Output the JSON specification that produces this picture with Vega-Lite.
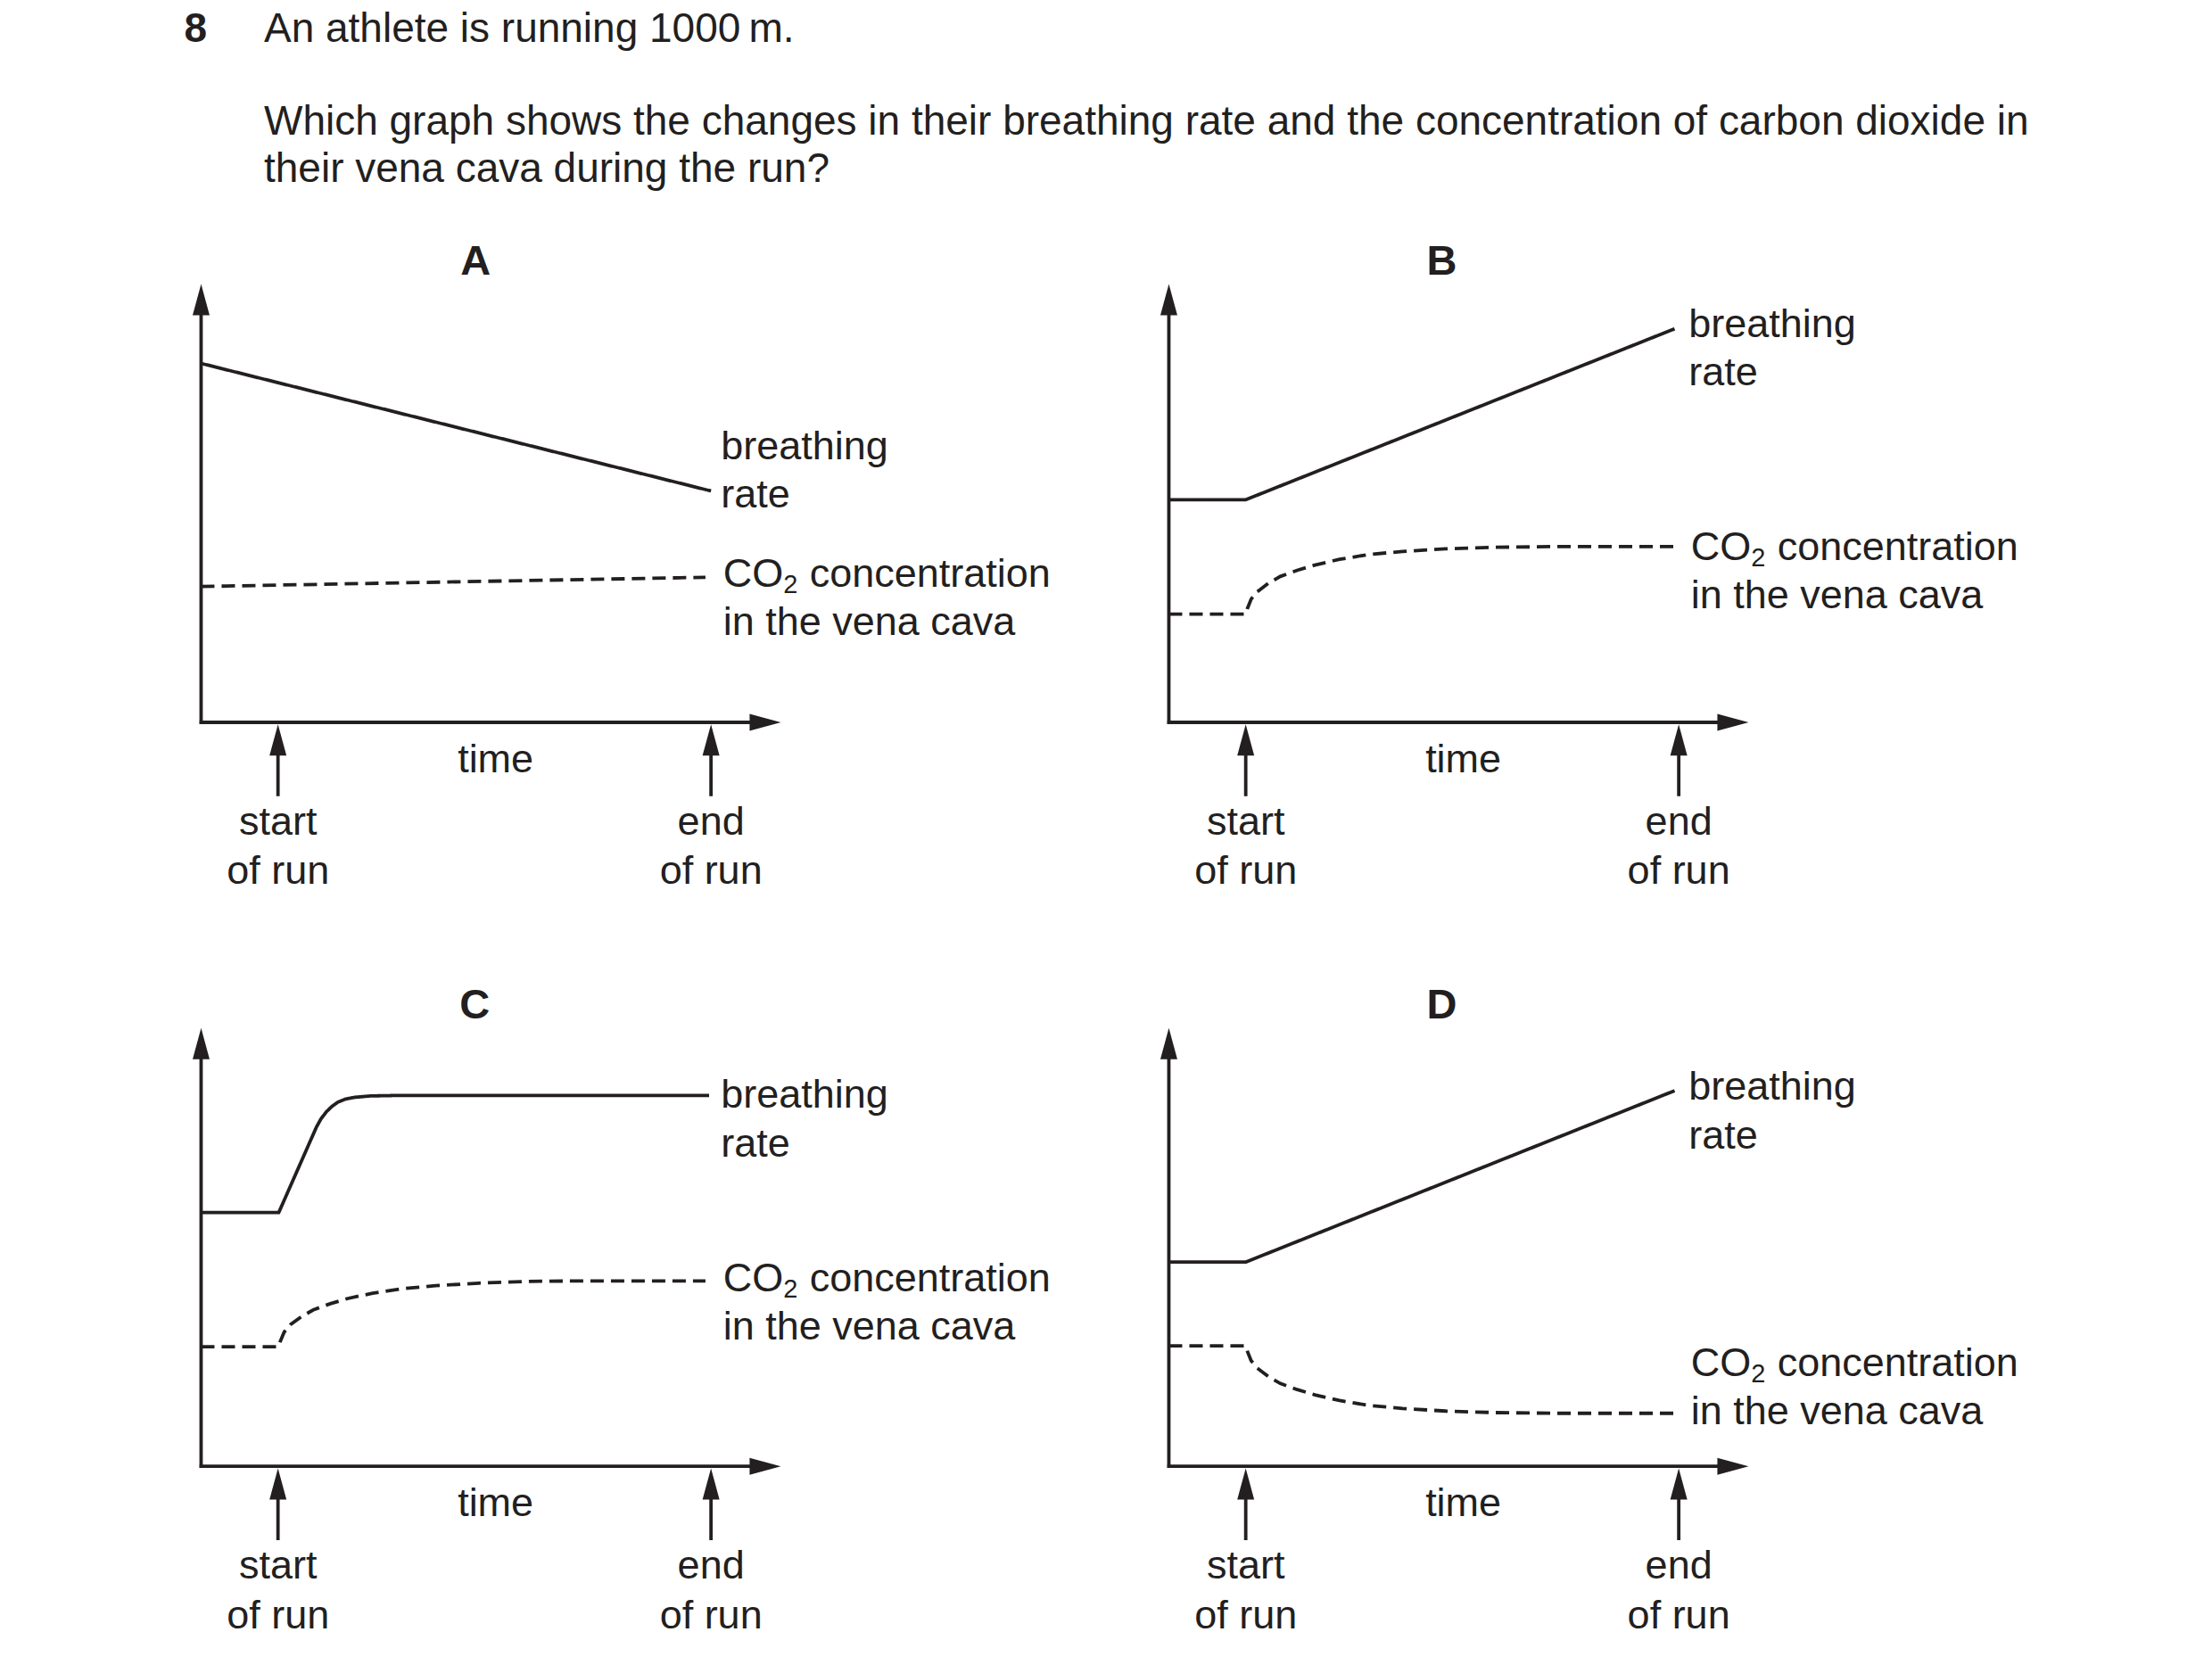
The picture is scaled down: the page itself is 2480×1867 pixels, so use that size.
{
  "$schema": "https://vega.github.io/schema/vega-lite/v6.json",
  "background": "white",
  "padding": {"left": 195.3, "top": 0, "right": 0, "bottom": 0},
  "config": {
    "view": {"stroke": null},
    "text": {"font": "Liberation Sans", "color": "#231f20"}
  },
  "datasets": {
    "header": [
      {"role": "number", "text": "8", "col": 0.13, "line": 1},
      {"role": "question", "text": "An athlete is running 1000\u2009m.", "col": 1.168, "line": 1},
      {"role": "question", "text": "Which graph shows the changes in their breathing rate and the concentration of carbon dioxide in", "col": 1.168, "line": 3},
      {"role": "question", "text": "their vena cava during the run?", "col": 1.168, "line": 4}
    ],
    "panels": [
      {"panel": "A", "kind": "rule", "x": 0, "y": -0.035, "x2": 0, "y2": 9.35},
      {"panel": "A", "kind": "rule", "x": -0.02, "y": 0, "x2": 7.17, "y2": 0},
      {"panel": "A", "kind": "rule", "x": 1, "y": -1.685, "x2": 1, "y2": -0.7},
      {"panel": "A", "kind": "rule", "x": 6.632, "y": -1.685, "x2": 6.632, "y2": -0.7},
      {"panel": "A", "kind": "head", "dir": "up", "x": 0, "y": 9.644},
      {"panel": "A", "kind": "head", "dir": "right", "x": 7.337, "y": 0},
      {"panel": "A", "kind": "head", "dir": "up", "x": 1, "y": -0.401},
      {"panel": "A", "kind": "head", "dir": "up", "x": 6.632, "y": -0.401},
      {"panel": "A", "kind": "tick", "text": "time", "x": 3.83, "y": -1.14},
      {"panel": "A", "kind": "tick", "text": "start", "x": 1, "y": -2.57},
      {"panel": "A", "kind": "tick", "text": "of run", "x": 1, "y": -3.69},
      {"panel": "A", "kind": "tick", "text": "end", "x": 6.632, "y": -2.57},
      {"panel": "A", "kind": "tick", "text": "of run", "x": 6.632, "y": -3.69},
      {"panel": "A", "kind": "letter", "text": "A", "x": 3.57, "y": 10.21},
      {"panel": "A", "kind": "brlabel", "x": 6.76, "y": 6.01},
      {"panel": "A", "kind": "co2label", "x": 6.79, "y": 3.1},

      {"panel": "B", "kind": "rule", "x": 0, "y": -0.035, "x2": 0, "y2": 9.35},
      {"panel": "B", "kind": "rule", "x": -0.02, "y": 0, "x2": 7.17, "y2": 0},
      {"panel": "B", "kind": "rule", "x": 1, "y": -1.685, "x2": 1, "y2": -0.7},
      {"panel": "B", "kind": "rule", "x": 6.632, "y": -1.685, "x2": 6.632, "y2": -0.7},
      {"panel": "B", "kind": "head", "dir": "up", "x": 0, "y": 9.644},
      {"panel": "B", "kind": "head", "dir": "right", "x": 7.337, "y": 0},
      {"panel": "B", "kind": "head", "dir": "up", "x": 1, "y": -0.401},
      {"panel": "B", "kind": "head", "dir": "up", "x": 6.632, "y": -0.401},
      {"panel": "B", "kind": "tick", "text": "time", "x": 3.83, "y": -1.14},
      {"panel": "B", "kind": "tick", "text": "start", "x": 1, "y": -2.57},
      {"panel": "B", "kind": "tick", "text": "of run", "x": 1, "y": -3.69},
      {"panel": "B", "kind": "tick", "text": "end", "x": 6.632, "y": -2.57},
      {"panel": "B", "kind": "tick", "text": "of run", "x": 6.632, "y": -3.69},
      {"panel": "B", "kind": "letter", "text": "B", "x": 3.55, "y": 10.21},
      {"panel": "B", "kind": "brlabel", "x": 6.76, "y": 8.8},
      {"panel": "B", "kind": "co2label", "x": 6.79, "y": 3.71},

      {"panel": "C", "kind": "rule", "x": 0, "y": -0.035, "x2": 0, "y2": 9.35},
      {"panel": "C", "kind": "rule", "x": -0.02, "y": 0, "x2": 7.17, "y2": 0},
      {"panel": "C", "kind": "rule", "x": 1, "y": -1.685, "x2": 1, "y2": -0.7},
      {"panel": "C", "kind": "rule", "x": 6.632, "y": -1.685, "x2": 6.632, "y2": -0.7},
      {"panel": "C", "kind": "head", "dir": "up", "x": 0, "y": 9.644},
      {"panel": "C", "kind": "head", "dir": "right", "x": 7.337, "y": 0},
      {"panel": "C", "kind": "head", "dir": "up", "x": 1, "y": -0.401},
      {"panel": "C", "kind": "head", "dir": "up", "x": 6.632, "y": -0.401},
      {"panel": "C", "kind": "tick", "text": "time", "x": 3.83, "y": -1.14},
      {"panel": "C", "kind": "tick", "text": "start", "x": 1, "y": -2.57},
      {"panel": "C", "kind": "tick", "text": "of run", "x": 1, "y": -3.69},
      {"panel": "C", "kind": "tick", "text": "end", "x": 6.632, "y": -2.57},
      {"panel": "C", "kind": "tick", "text": "of run", "x": 6.632, "y": -3.69},
      {"panel": "C", "kind": "letter", "text": "C", "x": 3.56, "y": 10.21},
      {"panel": "C", "kind": "brlabel", "x": 6.76, "y": 8.18},
      {"panel": "C", "kind": "co2label", "x": 6.79, "y": 4.0},

      {"panel": "D", "kind": "rule", "x": 0, "y": -0.035, "x2": 0, "y2": 9.35},
      {"panel": "D", "kind": "rule", "x": -0.02, "y": 0, "x2": 7.17, "y2": 0},
      {"panel": "D", "kind": "rule", "x": 1, "y": -1.685, "x2": 1, "y2": -0.7},
      {"panel": "D", "kind": "rule", "x": 6.632, "y": -1.685, "x2": 6.632, "y2": -0.7},
      {"panel": "D", "kind": "head", "dir": "up", "x": 0, "y": 9.644},
      {"panel": "D", "kind": "head", "dir": "right", "x": 7.337, "y": 0},
      {"panel": "D", "kind": "head", "dir": "up", "x": 1, "y": -0.401},
      {"panel": "D", "kind": "head", "dir": "up", "x": 6.632, "y": -0.401},
      {"panel": "D", "kind": "tick", "text": "time", "x": 3.83, "y": -1.14},
      {"panel": "D", "kind": "tick", "text": "start", "x": 1, "y": -2.57},
      {"panel": "D", "kind": "tick", "text": "of run", "x": 1, "y": -3.69},
      {"panel": "D", "kind": "tick", "text": "end", "x": 6.632, "y": -2.57},
      {"panel": "D", "kind": "tick", "text": "of run", "x": 6.632, "y": -3.69},
      {"panel": "D", "kind": "letter", "text": "D", "x": 3.55, "y": 10.21},
      {"panel": "D", "kind": "brlabel", "x": 6.76, "y": 8.36},
      {"panel": "D", "kind": "co2label", "x": 6.79, "y": 2.06},

      {"panel": "A", "kind": "curve", "series": "breathing", "x": 0, "y": 8.19},
      {"panel": "A", "kind": "curve", "series": "breathing", "x": 6.632, "y": 5.28},
      {"panel": "A", "kind": "curve", "series": "co2", "x": 0, "y": 3.1},
      {"panel": "A", "kind": "curve", "series": "co2", "x": 6.56, "y": 3.31},

      {"panel": "B", "kind": "curve", "series": "breathing", "x": 0, "y": 5.08},
      {"panel": "B", "kind": "curve", "series": "breathing", "x": 1.0, "y": 5.08},
      {"panel": "B", "kind": "curve", "series": "breathing", "x": 6.578, "y": 8.98},
      {"panel": "B", "kind": "curve", "series": "co2", "x": 0, "y": 2.47},
      {"panel": "B", "kind": "curve", "series": "co2", "x": 1.0, "y": 2.47},
      {"panel": "B", "kind": "curve", "series": "co2", "x": 1.02, "y": 2.59},
      {"panel": "B", "kind": "curve", "series": "co2", "x": 1.07, "y": 2.81},
      {"panel": "B", "kind": "curve", "series": "co2", "x": 1.15, "y": 2.98},
      {"panel": "B", "kind": "curve", "series": "co2", "x": 1.3, "y": 3.18},
      {"panel": "B", "kind": "curve", "series": "co2", "x": 1.45, "y": 3.33},
      {"panel": "B", "kind": "curve", "series": "co2", "x": 1.67, "y": 3.47},
      {"panel": "B", "kind": "curve", "series": "co2", "x": 1.9, "y": 3.59},
      {"panel": "B", "kind": "curve", "series": "co2", "x": 2.22, "y": 3.72},
      {"panel": "B", "kind": "curve", "series": "co2", "x": 2.6, "y": 3.83},
      {"panel": "B", "kind": "curve", "series": "co2", "x": 3.04, "y": 3.9},
      {"panel": "B", "kind": "curve", "series": "co2", "x": 3.6, "y": 3.96},
      {"panel": "B", "kind": "curve", "series": "co2", "x": 4.24, "y": 3.995},
      {"panel": "B", "kind": "curve", "series": "co2", "x": 5.0, "y": 4.01},
      {"panel": "B", "kind": "curve", "series": "co2", "x": 6.63, "y": 4.01},

      {"panel": "C", "kind": "curve", "series": "breathing", "x": 0, "y": 5.79},
      {"panel": "C", "kind": "curve", "series": "breathing", "x": 1.01, "y": 5.79},
      {"panel": "C", "kind": "curve", "series": "breathing", "x": 1.5, "y": 7.74},
      {"panel": "C", "kind": "curve", "series": "breathing", "x": 1.56, "y": 7.93},
      {"panel": "C", "kind": "curve", "series": "breathing", "x": 1.63, "y": 8.09},
      {"panel": "C", "kind": "curve", "series": "breathing", "x": 1.7, "y": 8.21},
      {"panel": "C", "kind": "curve", "series": "breathing", "x": 1.78, "y": 8.31},
      {"panel": "C", "kind": "curve", "series": "breathing", "x": 1.88, "y": 8.38},
      {"panel": "C", "kind": "curve", "series": "breathing", "x": 2.0, "y": 8.42},
      {"panel": "C", "kind": "curve", "series": "breathing", "x": 2.2, "y": 8.45},
      {"panel": "C", "kind": "curve", "series": "breathing", "x": 2.5, "y": 8.46},
      {"panel": "C", "kind": "curve", "series": "breathing", "x": 6.607, "y": 8.46},
      {"panel": "C", "kind": "curve", "series": "co2", "x": 0, "y": 2.73},
      {"panel": "C", "kind": "curve", "series": "co2", "x": 1.01, "y": 2.73},
      {"panel": "C", "kind": "curve", "series": "co2", "x": 1.03, "y": 2.85},
      {"panel": "C", "kind": "curve", "series": "co2", "x": 1.08, "y": 3.06},
      {"panel": "C", "kind": "curve", "series": "co2", "x": 1.16, "y": 3.23},
      {"panel": "C", "kind": "curve", "series": "co2", "x": 1.31, "y": 3.42},
      {"panel": "C", "kind": "curve", "series": "co2", "x": 1.46, "y": 3.57},
      {"panel": "C", "kind": "curve", "series": "co2", "x": 1.68, "y": 3.71},
      {"panel": "C", "kind": "curve", "series": "co2", "x": 1.91, "y": 3.83},
      {"panel": "C", "kind": "curve", "series": "co2", "x": 2.23, "y": 3.95},
      {"panel": "C", "kind": "curve", "series": "co2", "x": 2.61, "y": 4.05},
      {"panel": "C", "kind": "curve", "series": "co2", "x": 3.05, "y": 4.12},
      {"panel": "C", "kind": "curve", "series": "co2", "x": 3.61, "y": 4.18},
      {"panel": "C", "kind": "curve", "series": "co2", "x": 4.25, "y": 4.22},
      {"panel": "C", "kind": "curve", "series": "co2", "x": 5.0, "y": 4.23},
      {"panel": "C", "kind": "curve", "series": "co2", "x": 6.56, "y": 4.23},

      {"panel": "D", "kind": "curve", "series": "breathing", "x": 0, "y": 4.66},
      {"panel": "D", "kind": "curve", "series": "breathing", "x": 1.0, "y": 4.66},
      {"panel": "D", "kind": "curve", "series": "breathing", "x": 6.578, "y": 8.57},
      {"panel": "D", "kind": "curve", "series": "co2", "x": 0, "y": 2.75},
      {"panel": "D", "kind": "curve", "series": "co2", "x": 1.0, "y": 2.75},
      {"panel": "D", "kind": "curve", "series": "co2", "x": 1.02, "y": 2.63},
      {"panel": "D", "kind": "curve", "series": "co2", "x": 1.07, "y": 2.41},
      {"panel": "D", "kind": "curve", "series": "co2", "x": 1.15, "y": 2.24},
      {"panel": "D", "kind": "curve", "series": "co2", "x": 1.3, "y": 2.04},
      {"panel": "D", "kind": "curve", "series": "co2", "x": 1.45, "y": 1.89},
      {"panel": "D", "kind": "curve", "series": "co2", "x": 1.67, "y": 1.75},
      {"panel": "D", "kind": "curve", "series": "co2", "x": 1.9, "y": 1.63},
      {"panel": "D", "kind": "curve", "series": "co2", "x": 2.22, "y": 1.5},
      {"panel": "D", "kind": "curve", "series": "co2", "x": 2.6, "y": 1.39},
      {"panel": "D", "kind": "curve", "series": "co2", "x": 3.04, "y": 1.32},
      {"panel": "D", "kind": "curve", "series": "co2", "x": 3.6, "y": 1.26},
      {"panel": "D", "kind": "curve", "series": "co2", "x": 4.24, "y": 1.225},
      {"panel": "D", "kind": "curve", "series": "co2", "x": 5.0, "y": 1.21},
      {"panel": "D", "kind": "curve", "series": "co2", "x": 6.63, "y": 1.21}
    ]
  },
  "vconcat": [
    {
      "width": 2168.6,
      "height": 265,
      "data": {"name": "header"},
      "encoding": {
        "x": {"field": "col", "type": "quantitative", "scale": {"domain": [0, 25.157], "nice": false, "zero": false}, "axis": null},
        "y": {"field": "line", "type": "quantitative", "scale": {"domain": [0.107, 5.174], "nice": false, "zero": false, "reverse": true}, "axis": null},
        "text": {"field": "text", "type": "nominal"}
      },
      "layer": [
        {
          "transform": [{"filter": "datum.role === 'number'"}],
          "mark": {"type": "text", "align": "left", "baseline": "alphabetic", "fontSize": 46, "fontWeight": "bold"}
        },
        {
          "transform": [{"filter": "datum.role === 'question'"}],
          "mark": {"type": "text", "align": "left", "baseline": "alphabetic", "fontSize": 46}
        }
      ]
    },
    {
      "data": {"name": "panels"},
      "spacing": 89.2,
      "vconcat": [
        {
          "spacing": 0,
          "hconcat": [
            {
              "width": 1084.3, "height": 745,
              "transform": [{"filter": "datum.panel === 'A'"}],
              "encoding": {
                "x": {"field": "x", "type": "quantitative", "scale": {"domain": [-0.35, 12.229], "nice": false, "zero": false}, "axis": null},
                "y": {"field": "y", "type": "quantitative", "scale": {"domain": [-4.07, 11.09], "nice": false, "zero": false}, "axis": null}
              },
              "layer": [
                {"transform": [{"filter": "datum.kind === 'rule'"}], "mark": {"type": "rule", "strokeWidth": 3.8, "color": "#231f20"}, "encoding": {"x2": {"field": "x2"}, "y2": {"field": "y2"}}},
                {"transform": [{"filter": "datum.kind === 'head'"}], "mark": {"type": "point", "filled": true, "opacity": 1, "strokeWidth": 0, "color": "#231f20", "size": 1225}, "encoding": {"shape": {"field": "dir", "type": "nominal", "scale": {"domain": ["up", "right"], "range": ["M0,-1L0.543,1L-0.543,1Z", "M1,0L-1,-0.543L-1,0.543Z"]}, "legend": null}}},
                {"transform": [{"filter": "datum.kind === 'curve'"}], "mark": {"type": "line", "strokeWidth": 3.8, "color": "#231f20", "strokeCap": "butt"}, "encoding": {"detail": {"field": "series", "type": "nominal"}, "strokeDash": {"field": "series", "type": "nominal", "scale": {"domain": ["breathing", "co2"], "range": [[1, 0], [15, 8]]}, "legend": null}}},
                {"transform": [{"filter": "datum.kind === 'tick'"}], "mark": {"type": "text", "align": "center", "baseline": "alphabetic", "fontSize": 45}, "encoding": {"text": {"field": "text", "type": "nominal"}}},
                {"transform": [{"filter": "datum.kind === 'letter'"}], "mark": {"type": "text", "align": "center", "baseline": "alphabetic", "fontSize": 47, "fontWeight": "bold"}, "encoding": {"text": {"field": "text", "type": "nominal"}}},
                {"transform": [{"filter": "datum.kind === 'brlabel'"}], "mark": {"type": "text", "align": "left", "baseline": "alphabetic", "fontSize": 45}, "encoding": {"text": {"value": "breathing"}}},
                {"transform": [{"filter": "datum.kind === 'brlabel'"}], "mark": {"type": "text", "align": "left", "baseline": "alphabetic", "fontSize": 45, "dy": 54.5}, "encoding": {"text": {"value": "rate"}}},
                {"transform": [{"filter": "datum.kind === 'co2label'"}], "mark": {"type": "text", "align": "left", "baseline": "alphabetic", "fontSize": 45}, "encoding": {"text": {"value": "CO"}}},
                {"transform": [{"filter": "datum.kind === 'co2label'"}], "mark": {"type": "text", "align": "left", "baseline": "alphabetic", "fontSize": 29, "dx": 67.5, "dy": 7}, "encoding": {"text": {"value": "2"}}},
                {"transform": [{"filter": "datum.kind === 'co2label'"}], "mark": {"type": "text", "align": "left", "baseline": "alphabetic", "fontSize": 45, "dx": 97}, "encoding": {"text": {"value": "concentration"}}},
                {"transform": [{"filter": "datum.kind === 'co2label'"}], "mark": {"type": "text", "align": "left", "baseline": "alphabetic", "fontSize": 45, "dy": 54}, "encoding": {"text": {"value": "in the vena cava"}}}
              ]
            },
            {
              "width": 1084.3, "height": 745,
              "transform": [{"filter": "datum.panel === 'B'"}],
              "encoding": {
                "x": {"field": "x", "type": "quantitative", "scale": {"domain": [-0.35, 12.229], "nice": false, "zero": false}, "axis": null},
                "y": {"field": "y", "type": "quantitative", "scale": {"domain": [-4.07, 11.09], "nice": false, "zero": false}, "axis": null}
              },
              "layer": [
                {"transform": [{"filter": "datum.kind === 'rule'"}], "mark": {"type": "rule", "strokeWidth": 3.8, "color": "#231f20"}, "encoding": {"x2": {"field": "x2"}, "y2": {"field": "y2"}}},
                {"transform": [{"filter": "datum.kind === 'head'"}], "mark": {"type": "point", "filled": true, "opacity": 1, "strokeWidth": 0, "color": "#231f20", "size": 1225}, "encoding": {"shape": {"field": "dir", "type": "nominal", "scale": {"domain": ["up", "right"], "range": ["M0,-1L0.543,1L-0.543,1Z", "M1,0L-1,-0.543L-1,0.543Z"]}, "legend": null}}},
                {"transform": [{"filter": "datum.kind === 'curve'"}], "mark": {"type": "line", "strokeWidth": 3.8, "color": "#231f20", "strokeCap": "butt"}, "encoding": {"detail": {"field": "series", "type": "nominal"}, "strokeDash": {"field": "series", "type": "nominal", "scale": {"domain": ["breathing", "co2"], "range": [[1, 0], [15, 8]]}, "legend": null}}},
                {"transform": [{"filter": "datum.kind === 'tick'"}], "mark": {"type": "text", "align": "center", "baseline": "alphabetic", "fontSize": 45}, "encoding": {"text": {"field": "text", "type": "nominal"}}},
                {"transform": [{"filter": "datum.kind === 'letter'"}], "mark": {"type": "text", "align": "center", "baseline": "alphabetic", "fontSize": 47, "fontWeight": "bold"}, "encoding": {"text": {"field": "text", "type": "nominal"}}},
                {"transform": [{"filter": "datum.kind === 'brlabel'"}], "mark": {"type": "text", "align": "left", "baseline": "alphabetic", "fontSize": 45}, "encoding": {"text": {"value": "breathing"}}},
                {"transform": [{"filter": "datum.kind === 'brlabel'"}], "mark": {"type": "text", "align": "left", "baseline": "alphabetic", "fontSize": 45, "dy": 54.5}, "encoding": {"text": {"value": "rate"}}},
                {"transform": [{"filter": "datum.kind === 'co2label'"}], "mark": {"type": "text", "align": "left", "baseline": "alphabetic", "fontSize": 45}, "encoding": {"text": {"value": "CO"}}},
                {"transform": [{"filter": "datum.kind === 'co2label'"}], "mark": {"type": "text", "align": "left", "baseline": "alphabetic", "fontSize": 29, "dx": 67.5, "dy": 7}, "encoding": {"text": {"value": "2"}}},
                {"transform": [{"filter": "datum.kind === 'co2label'"}], "mark": {"type": "text", "align": "left", "baseline": "alphabetic", "fontSize": 45, "dx": 97}, "encoding": {"text": {"value": "concentration"}}},
                {"transform": [{"filter": "datum.kind === 'co2label'"}], "mark": {"type": "text", "align": "left", "baseline": "alphabetic", "fontSize": 45, "dy": 54}, "encoding": {"text": {"value": "in the vena cava"}}}
              ]
            }
          ]
        },
        {
          "spacing": 0,
          "hconcat": [
            {
              "width": 1084.3, "height": 745,
              "transform": [{"filter": "datum.panel === 'C'"}],
              "encoding": {
                "x": {"field": "x", "type": "quantitative", "scale": {"domain": [-0.35, 12.229], "nice": false, "zero": false}, "axis": null},
                "y": {"field": "y", "type": "quantitative", "scale": {"domain": [-4.07, 11.09], "nice": false, "zero": false}, "axis": null}
              },
              "layer": [
                {"transform": [{"filter": "datum.kind === 'rule'"}], "mark": {"type": "rule", "strokeWidth": 3.8, "color": "#231f20"}, "encoding": {"x2": {"field": "x2"}, "y2": {"field": "y2"}}},
                {"transform": [{"filter": "datum.kind === 'head'"}], "mark": {"type": "point", "filled": true, "opacity": 1, "strokeWidth": 0, "color": "#231f20", "size": 1225}, "encoding": {"shape": {"field": "dir", "type": "nominal", "scale": {"domain": ["up", "right"], "range": ["M0,-1L0.543,1L-0.543,1Z", "M1,0L-1,-0.543L-1,0.543Z"]}, "legend": null}}},
                {"transform": [{"filter": "datum.kind === 'curve'"}], "mark": {"type": "line", "strokeWidth": 3.8, "color": "#231f20", "strokeCap": "butt"}, "encoding": {"detail": {"field": "series", "type": "nominal"}, "strokeDash": {"field": "series", "type": "nominal", "scale": {"domain": ["breathing", "co2"], "range": [[1, 0], [15, 8]]}, "legend": null}}},
                {"transform": [{"filter": "datum.kind === 'tick'"}], "mark": {"type": "text", "align": "center", "baseline": "alphabetic", "fontSize": 45}, "encoding": {"text": {"field": "text", "type": "nominal"}}},
                {"transform": [{"filter": "datum.kind === 'letter'"}], "mark": {"type": "text", "align": "center", "baseline": "alphabetic", "fontSize": 47, "fontWeight": "bold"}, "encoding": {"text": {"field": "text", "type": "nominal"}}},
                {"transform": [{"filter": "datum.kind === 'brlabel'"}], "mark": {"type": "text", "align": "left", "baseline": "alphabetic", "fontSize": 45}, "encoding": {"text": {"value": "breathing"}}},
                {"transform": [{"filter": "datum.kind === 'brlabel'"}], "mark": {"type": "text", "align": "left", "baseline": "alphabetic", "fontSize": 45, "dy": 54.5}, "encoding": {"text": {"value": "rate"}}},
                {"transform": [{"filter": "datum.kind === 'co2label'"}], "mark": {"type": "text", "align": "left", "baseline": "alphabetic", "fontSize": 45}, "encoding": {"text": {"value": "CO"}}},
                {"transform": [{"filter": "datum.kind === 'co2label'"}], "mark": {"type": "text", "align": "left", "baseline": "alphabetic", "fontSize": 29, "dx": 67.5, "dy": 7}, "encoding": {"text": {"value": "2"}}},
                {"transform": [{"filter": "datum.kind === 'co2label'"}], "mark": {"type": "text", "align": "left", "baseline": "alphabetic", "fontSize": 45, "dx": 97}, "encoding": {"text": {"value": "concentration"}}},
                {"transform": [{"filter": "datum.kind === 'co2label'"}], "mark": {"type": "text", "align": "left", "baseline": "alphabetic", "fontSize": 45, "dy": 54}, "encoding": {"text": {"value": "in the vena cava"}}}
              ]
            },
            {
              "width": 1084.3, "height": 745,
              "transform": [{"filter": "datum.panel === 'D'"}],
              "encoding": {
                "x": {"field": "x", "type": "quantitative", "scale": {"domain": [-0.35, 12.229], "nice": false, "zero": false}, "axis": null},
                "y": {"field": "y", "type": "quantitative", "scale": {"domain": [-4.07, 11.09], "nice": false, "zero": false}, "axis": null}
              },
              "layer": [
                {"transform": [{"filter": "datum.kind === 'rule'"}], "mark": {"type": "rule", "strokeWidth": 3.8, "color": "#231f20"}, "encoding": {"x2": {"field": "x2"}, "y2": {"field": "y2"}}},
                {"transform": [{"filter": "datum.kind === 'head'"}], "mark": {"type": "point", "filled": true, "opacity": 1, "strokeWidth": 0, "color": "#231f20", "size": 1225}, "encoding": {"shape": {"field": "dir", "type": "nominal", "scale": {"domain": ["up", "right"], "range": ["M0,-1L0.543,1L-0.543,1Z", "M1,0L-1,-0.543L-1,0.543Z"]}, "legend": null}}},
                {"transform": [{"filter": "datum.kind === 'curve'"}], "mark": {"type": "line", "strokeWidth": 3.8, "color": "#231f20", "strokeCap": "butt"}, "encoding": {"detail": {"field": "series", "type": "nominal"}, "strokeDash": {"field": "series", "type": "nominal", "scale": {"domain": ["breathing", "co2"], "range": [[1, 0], [15, 8]]}, "legend": null}}},
                {"transform": [{"filter": "datum.kind === 'tick'"}], "mark": {"type": "text", "align": "center", "baseline": "alphabetic", "fontSize": 45}, "encoding": {"text": {"field": "text", "type": "nominal"}}},
                {"transform": [{"filter": "datum.kind === 'letter'"}], "mark": {"type": "text", "align": "center", "baseline": "alphabetic", "fontSize": 47, "fontWeight": "bold"}, "encoding": {"text": {"field": "text", "type": "nominal"}}},
                {"transform": [{"filter": "datum.kind === 'brlabel'"}], "mark": {"type": "text", "align": "left", "baseline": "alphabetic", "fontSize": 45}, "encoding": {"text": {"value": "breathing"}}},
                {"transform": [{"filter": "datum.kind === 'brlabel'"}], "mark": {"type": "text", "align": "left", "baseline": "alphabetic", "fontSize": 45, "dy": 54.5}, "encoding": {"text": {"value": "rate"}}},
                {"transform": [{"filter": "datum.kind === 'co2label'"}], "mark": {"type": "text", "align": "left", "baseline": "alphabetic", "fontSize": 45}, "encoding": {"text": {"value": "CO"}}},
                {"transform": [{"filter": "datum.kind === 'co2label'"}], "mark": {"type": "text", "align": "left", "baseline": "alphabetic", "fontSize": 29, "dx": 67.5, "dy": 7}, "encoding": {"text": {"value": "2"}}},
                {"transform": [{"filter": "datum.kind === 'co2label'"}], "mark": {"type": "text", "align": "left", "baseline": "alphabetic", "fontSize": 45, "dx": 97}, "encoding": {"text": {"value": "concentration"}}},
                {"transform": [{"filter": "datum.kind === 'co2label'"}], "mark": {"type": "text", "align": "left", "baseline": "alphabetic", "fontSize": 45, "dy": 54}, "encoding": {"text": {"value": "in the vena cava"}}}
              ]
            }
          ]
        }
      ]
    }
  ],
  "spacing": 0
}
